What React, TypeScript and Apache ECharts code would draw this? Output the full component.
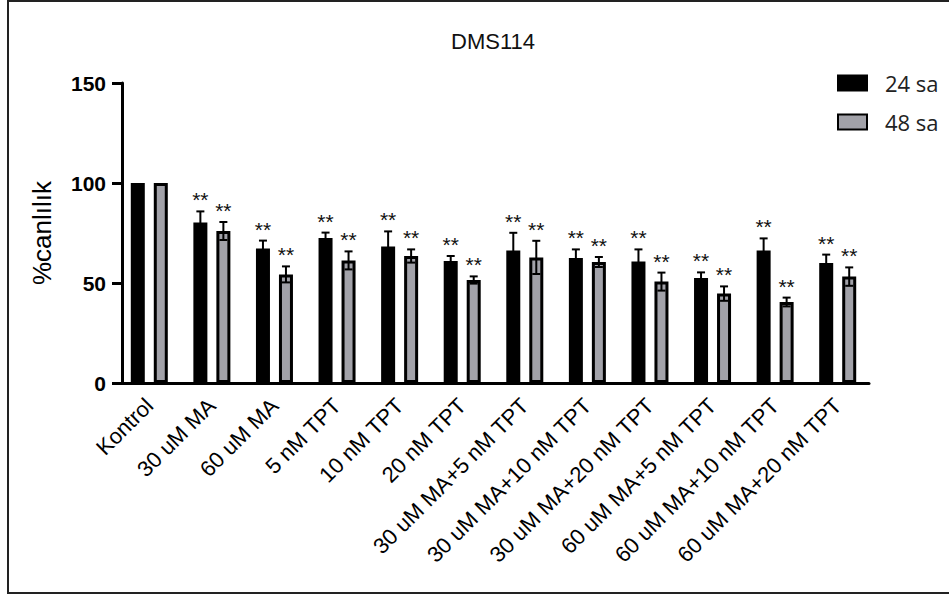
import React, { useEffect, useRef } from "react";
import * as echarts from "echarts";

const categories = [
  "Kontrol",
  "30 uM MA",
  "60 uM MA",
  "5 nM TPT",
  "10 nM TPT",
  "20 nM TPT",
  "30 uM MA+5 nM TPT",
  "30 uM MA+10 nM TPT",
  "30 uM MA+20 nM TPT",
  "60 uM MA+5 nM TPT",
  "60 uM MA+10 nM TPT",
  "60 uM MA+20 nM TPT",
];
const values24 = [100, 80.3, 67.2, 72.5, 68.2, 61, 66.3, 62.5, 60.8, 52.5, 66.3, 60];
const err24 = [0, 5.5, 4, 2.7, 7.6, 2.5, 8.8, 4.3, 6, 2.8, 6, 4.2];
const values48 = [100, 76, 54.3, 61.3, 63.5, 51.5, 62.8, 60.5, 50.7, 44.7, 40.5, 53.2];
const err48 = [0, 4.5, 4, 4.5, 3.3, 1.8, 8.3, 2.5, 4.5, 3.6, 2.2, 4.6];
const sig24 = ["", "**", "**", "**", "**", "**", "**", "**", "**", "**", "**", "**"];
const sig48 = ["", "**", "**", "**", "**", "**", "**", "**", "**", "**", "**", "**"];
const yTicks = [0, 50, 100, 150];

const GRAY = "#a2a2a9";
const FONT = "'Liberation Sans', Arial, Helvetica, sans-serif";
const NARROW = "'Liberation Sans Narrow', 'Arial Narrow', 'Liberation Sans', sans-serif";
const BAR_W = 14;
const BAR_GAP = 9;
const OFFSET = (BAR_W + BAR_GAP) / 2;

function errorSeries(name: string, vals: number[], errs: number[], sig: string[], dir: number) {
  return {
    type: "custom",
    name,
    z: 5,
    data: vals.map((v, i) => [i, v, errs[i]]),
    encode: { x: 0, y: 1 },
    renderItem: (params: any, api: any) => {
      const idx = api.value(0);
      const v = api.value(1);
      const e = api.value(2);
      if (!e) return null;
      const top = api.coord([idx, v + e]);
      const bot = api.coord([idx, v - e]);
      const x = top[0] + dir * OFFSET;
      const cap = 4;
      const st = { stroke: "#000", lineWidth: 2 };
      return {
        type: "group",
        children: [
          { type: "line", shape: { x1: x, y1: top[1], x2: x, y2: bot[1] }, style: st },
          { type: "line", shape: { x1: x - cap, y1: top[1], x2: x + cap, y2: top[1] }, style: st },
          { type: "line", shape: { x1: x - cap, y1: bot[1], x2: x + cap, y2: bot[1] }, style: st },
          {
            type: "text",
            style: {
              text: sig[params.dataIndex],
              x: x,
              y: top[1] - 1,
              align: "center",
              verticalAlign: "bottom",
              fontSize: 21,
              fontFamily: FONT,
              fill: "#111",
            },
          },
        ],
      };
    },
  };
}

export default function App() {
  const ref = useRef<HTMLDivElement>(null);
  useEffect(() => {
    if (!ref.current) return;
    const chart = echarts.init(ref.current, undefined, { renderer: "svg" });
    chart.setOption({
      animation: false,
      backgroundColor: "#fff",
      title: {
        text: "DMS114",
        left: 446,
        top: 25,
        textStyle: { fontSize: 22, fontWeight: "normal", fontFamily: NARROW, color: "#111" },
      },
      legend: {
        data: ["24 sa", "48 sa"],
        orient: "vertical",
        left: 832,
        top: 67,
        icon: "rect",
        itemWidth: 29,
        itemHeight: 15,
        itemGap: 17,
        textStyle: {
          fontSize: 22,
          fontFamily: "'Open Sans', sans-serif",
          color: "#222",
          padding: [0, 0, 0, 13],
        },
      },
      grid: { left: 118, right: 80, top: 83, bottom: 213 },
      xAxis: {
        type: "category",
        data: categories,
        axisLine: { lineStyle: { color: "#000", width: 3 } },
        axisTick: { alignWithLabel: true, length: 10, lineStyle: { color: "#000", width: 3 } },
        axisLabel: {
          rotate: 45,
          interval: 0,
          margin: 19,
          fontSize: 22,
          fontFamily: FONT,
          color: "#000",
        },
      },
      yAxis: {
        type: "value",
        min: 0,
        max: 150,
        interval: 50,
        offset: -4,
        name: "%canlılık",
        nameLocation: "middle",
        nameGap: 67,
        nameTextStyle: { fontSize: 26, fontFamily: FONT, color: "#000" },
        axisLine: { show: true, lineStyle: { color: "#000", width: 3 } },
        axisTick: { show: true, length: 10, lineStyle: { color: "#000", width: 3 } },
        axisLabel: {
          margin: 16,
          fontSize: 21,
          fontWeight: "bold",
          fontFamily: FONT,
          color: "#000",
          formatter: (v: number) => (yTicks.includes(v) ? String(v) : ""),
        },
        splitLine: { show: false },
      },
      series: [
        {
          name: "24 sa",
          type: "bar",
          data: values24,
          barWidth: BAR_W,
          barGap: (BAR_GAP / BAR_W) * 100 + "%",
          itemStyle: { color: "#000", borderColor: "#000", borderWidth: 3 },
        },
        {
          name: "48 sa",
          type: "bar",
          data: values48,
          barWidth: BAR_W,
          itemStyle: { color: GRAY, borderColor: "#000", borderWidth: 3 },
        },
        errorSeries("err24", values24, err24, sig24, -1),
        errorSeries("err48", values48, err48, sig48, 1),
      ],
      graphic: [
        {
          type: "rect",
          shape: { x: 8, y: 1, width: 960, height: 592 },
          style: { fill: "none", stroke: "#222", lineWidth: 2 },
          z: 100,
        },
      ],
    });
    return () => chart.dispose();
  }, []);
  return (
    <div
      ref={ref}
      style={{ position: "fixed", left: 0, top: 0, width: 949, height: 596 }}
    />
  );
}
